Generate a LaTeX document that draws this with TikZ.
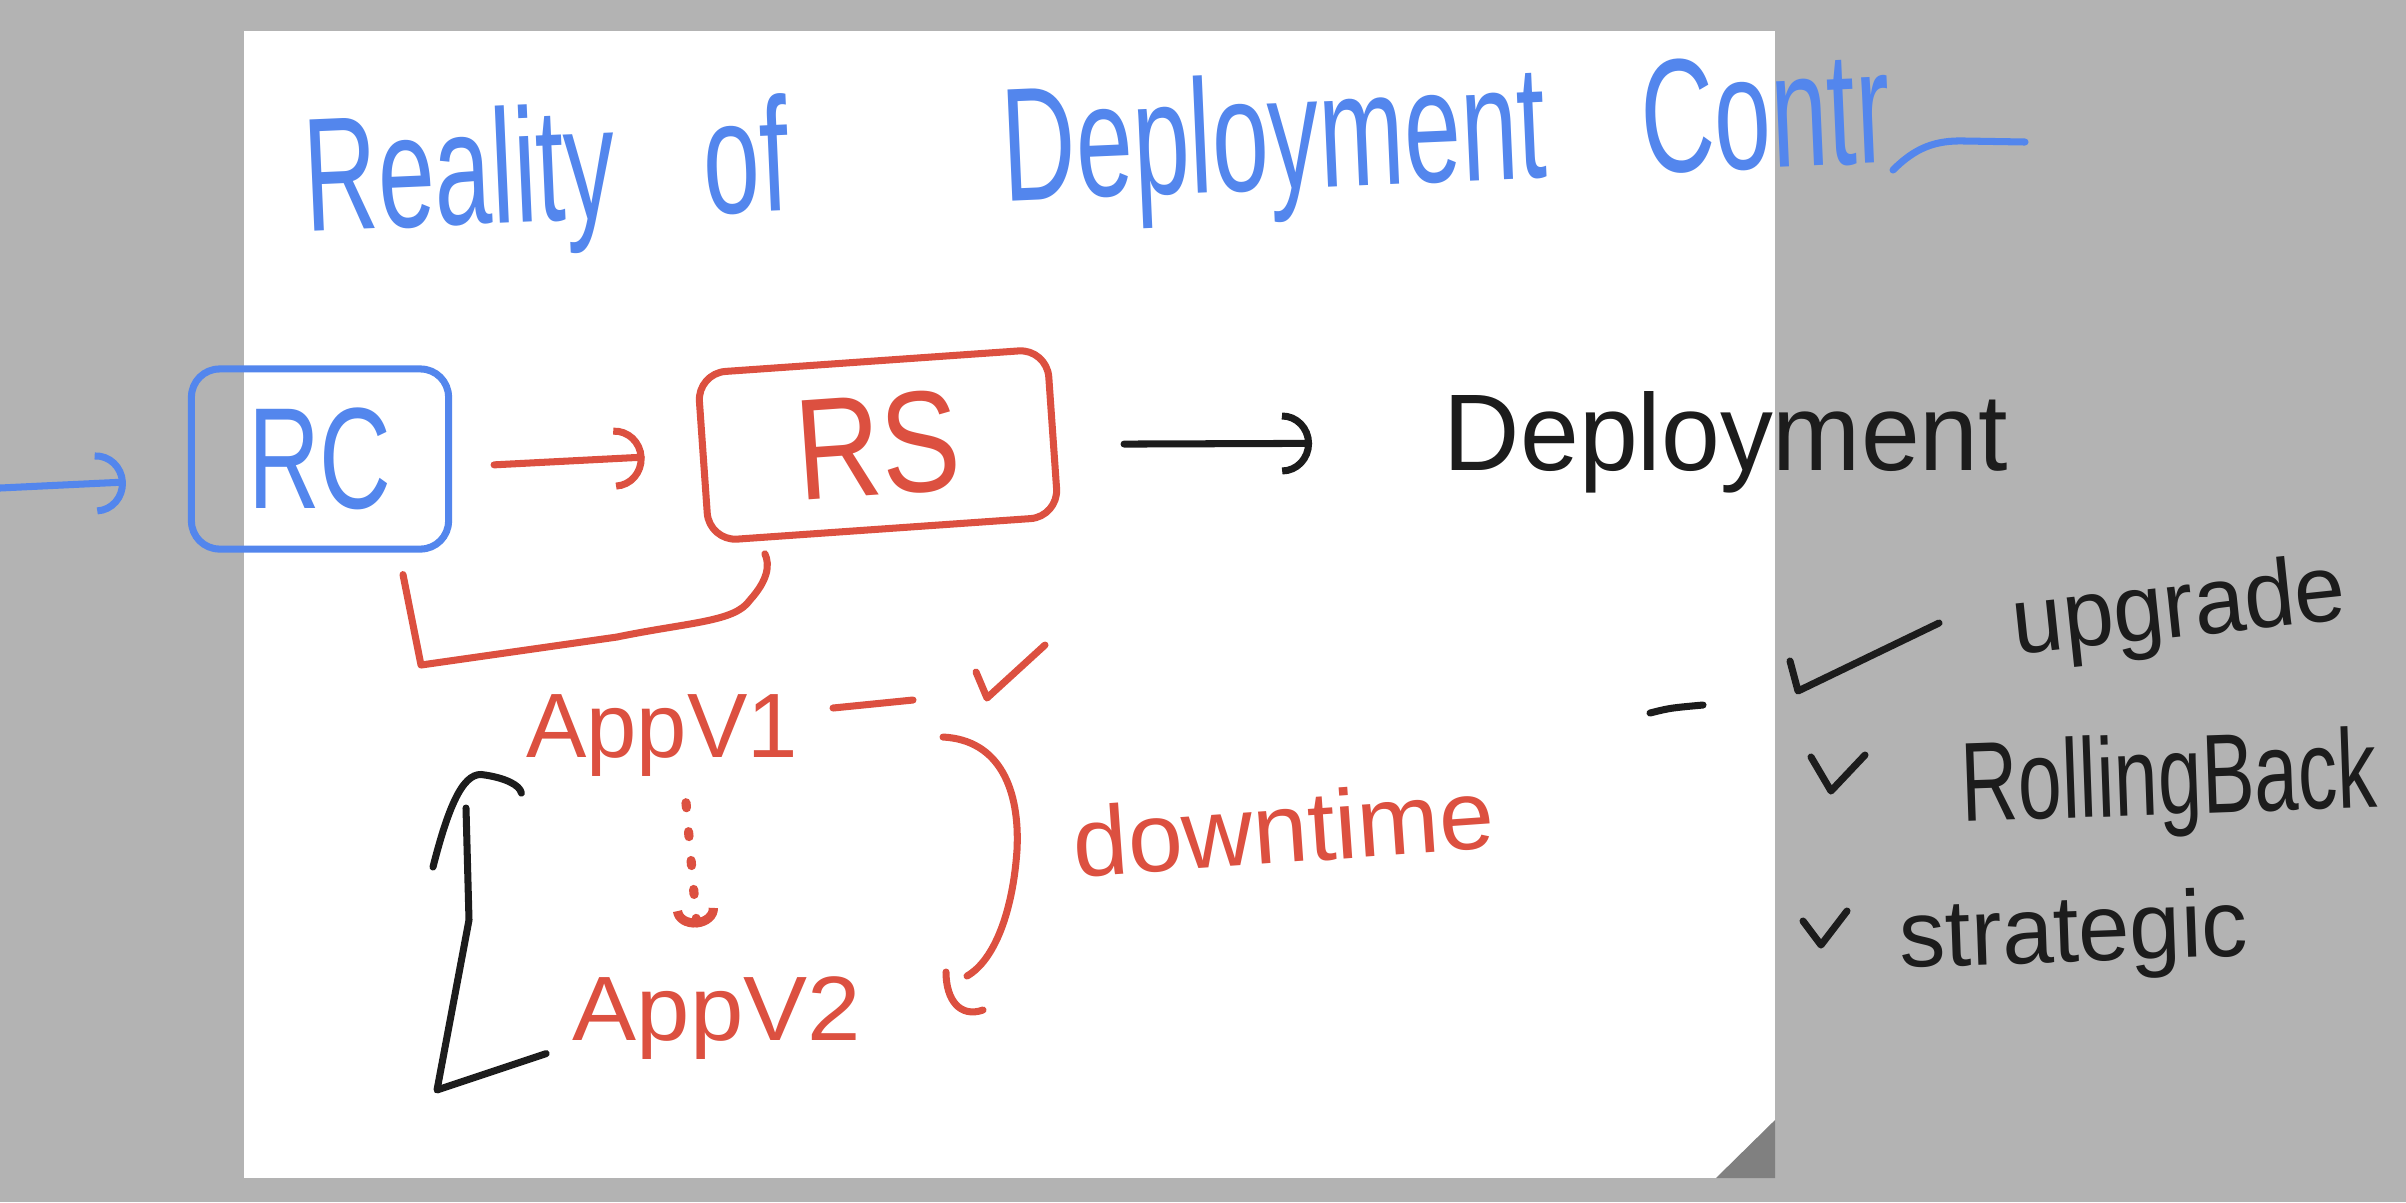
\documentclass[tikz,border=0pt]{standalone}
\usepackage{fontspec}
\setmainfont{Liberation Sans}
\usepackage{graphicx}
\usetikzlibrary{arrows.meta, positioning, calc}

\definecolor{penblue}{HTML}{5386ED}
\definecolor{penred}{HTML}{DC5040}
\definecolor{penblack}{HTML}{1C1C1C}
\definecolor{deskgray}{HTML}{B3B3B3}
\definecolor{curlgray}{HTML}{808080}

\newcommand{\hw}[2]{\scalebox{#1}[1]{#2}}

\begin{document}
\begin{tikzpicture}[
    x=0.01cm, y=-0.01cm,
    ink/.style={line width=2pt, line cap=round, line join=round},
    penarrow/.style={-{Arc Barb[length=0.3cm, width=0.62cm]}},
    smallarrow/.style={-{Arc Barb[length=0.18cm, width=0.45cm]}},
    handtext/.style={inner sep=2pt},
    penbox/.style={ink, rounded corners=8pt, inner sep=0pt}
]
    % board and page
    \fill[deskgray] (0,0) rectangle (2406,1202);
    \useasboundingbox (0,0) rectangle (2406,1202);
    \fill[white] (244,31) rectangle (1775,1178);
    \fill[curlgray] (1716,1178) -- (1775,1120) -- (1775,1178) -- cycle;

    % title
    \node[handtext, text=penblue, anchor=base west, rotate=2.5, font=\fontsize{46}{50}\selectfont] (title) at (299,232)
        {\hw{0.63}{Reality}\hspace{25pt}\hw{0.63}{of}\hspace{61pt}\hw{0.63}{Deployment}\hspace{27pt}\hw{0.63}{Contr}};
    \draw[ink, penblue] (1893,170) .. controls (1915,148) and (1935,140) .. (1965,141) -- (2025,142);

    % controllers
    \node[penbox, draw=penblue, text=penblue, minimum width=2.57cm, minimum height=1.8cm, font=\fontsize{41}{45}\selectfont] (rc) at (320,459) {\hw{0.69}{RC}};
    \node[penbox, draw=penred, text=penred, minimum width=3.5cm, minimum height=1.68cm, rotate=4, font=\fontsize{41}{45}\selectfont] (rs) at (878,445) {\hw{0.82}{RS}};
    \node[handtext, text=penblack, anchor=base, font=\fontsize{31}{35}\selectfont] (dep) at (1726,470) {\hw{0.97}{Deployment}};

    \coordinate (feed) at (0,488);
    \draw[ink, penblue, penarrow, shorten >=0.62cm] (feed) -- ([yshift=-0.2cm]rc.west);
    \draw[ink, penred, penarrow, shorten <=0.42cm, shorten >=0.55cm] ([yshift=-0.08cm]rc.east) -- (rs);
    \draw[ink, penblack, penarrow, shorten <=0.67cm, shorten >=1.24cm] (rs) -- (dep);
    \draw[ink, penred] ([shift={(83,22)}]rc.south) -- (421,665) -- (617,637)
        .. controls (690,622) and (735,622) .. (750,600)
        .. controls (768,580) and (770,565) .. ([shift={(59,9)}]rs.south west);

    % app versions
    \node[handtext, text=penred, anchor=base, font=\fontsize{26}{30}\selectfont] (appv1) at (662,757) {\hw{0.99}{AppV1}};
    \node[handtext, text=penred, anchor=base, font=\fontsize{26}{30}\selectfont] (appv2) at (717,1040) {\hw{1.05}{AppV2}};
    \draw[ink, penred] (833,708) -- (913,700);
    \draw[ink, penred] (976,672) -- (987,698) -- (1045,645);
    \draw[ink, penred, smallarrow, line width=2.6pt, dash pattern=on 0.05cm off 0.24cm] ([shift={(24,19)}]appv1.south) -- ([shift={(-20,-41)}]appv2.north);
    \draw[ink, penblack] ([shift={(-19,36)}]appv2.west) -- (437,1090) -- (469,920) -- (466,808);
    \draw[ink, penblack] (433,867) .. controls (450,800) and (465,770) .. (485,775)
        .. controls (505,778) and (520,785) .. ([shift={(3,58)}]appv1.west);

    % downtime brace
    \draw[ink, penred] (943,737) .. controls (1000,740) and (1020,790) .. (1017,850)
        .. controls (1013,910) and (995,960) .. (967,976);
    \draw[ink, penred] (946,972) .. controls (946,1000) and (960,1018) .. (983,1010);
    \node[handtext, text=penred, anchor=base west, rotate=4, font=\fontsize{28}{32}\selectfont] (downtime) at (1068,878) {downtime};

    % deployment features
    \draw[ink, penblack] (1650,713) .. controls (1670,708) .. (1703,705);
    \draw[ink, penblack] (1790,661) -- (1798,691) -- (1939,623);
    \node[handtext, text=penblack, anchor=base west, rotate=6, font=\fontsize{27}{30}\selectfont] (upgrade) at (2008,655) {\hw{0.96}{upgrade}};
    \draw[ink, penblack] (1811,757) -- (1831,791) -- (1865,755);
    \node[handtext, text=penblack, anchor=base west, rotate=2, font=\fontsize{32}{36}\selectfont] (rollback) at (1955,822) {\hw{0.7}{RollingBack}};
    \draw[ink, penblack] (1803,921) -- (1821,945) -- (1847,911);
    \node[handtext, text=penblack, anchor=base west, rotate=2, font=\fontsize{27}{30}\selectfont] (strategic) at (1893,968) {\hw{0.97}{strategic}};
\end{tikzpicture}
\end{document}
